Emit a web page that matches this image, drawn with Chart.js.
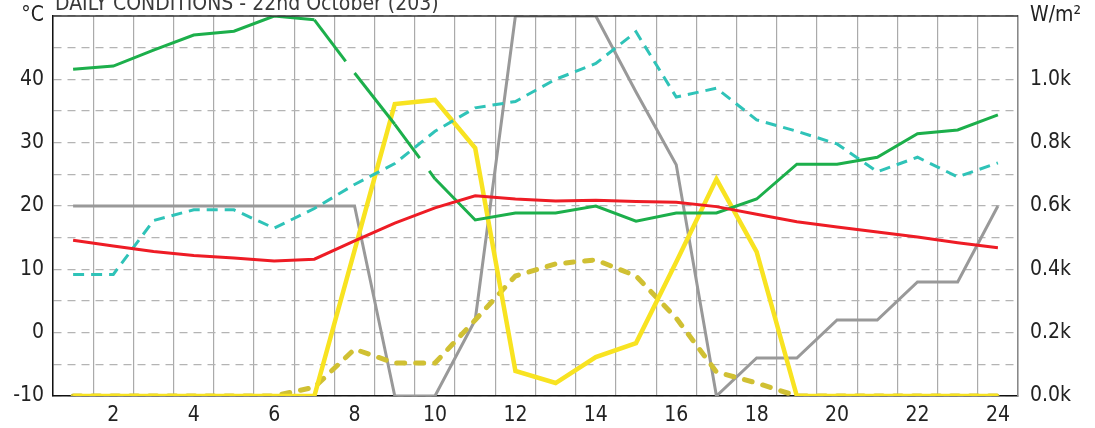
<!DOCTYPE html>
<html>
<head>
<meta charset="utf-8">
<script src="https://cdn.jsdelivr.net/npm/chart.js@4/dist/chart.umd.min.js"></script>
<style>
  html, body { margin: 0; padding: 0; background: #ffffff; }
  #wrap { width: 1095px; height: 428px; position: relative; }
</style>
</head>
<body>
<div id="wrap"><canvas id="chart"></canvas></div>
<script>
// Hours of the day
const hours = [1, 2, 3, 4, 5, 6, 7, 8, 9, 10, 11, 12, 13, 14, 15, 16, 17, 18, 19, 20, 21, 22, 23, 24];

// Temperature-scale series (°C)
const airTemp     = [14.6, 13.7, 12.8, 12.2, 11.8, 11.3, 11.6, 14.5, 17.3, 19.7, 21.6, 21.1, 20.8, 20.9, 20.7, 20.6, 19.9, 18.7, 17.5, 16.7, 15.9, 15.1, 14.2, 13.4];
const greenSeries = [41.6, 42.1, 44.6, 47.0, 47.6, 50.0, 49.4, 41.0, 32.9, 24.3, 17.8, 18.9, 18.9, 20.0, 17.6, 18.9, 18.9, 21.1, 26.6, 26.6, 27.7, 31.4, 32.0, 34.4];
const cyanSeries  = [9.2, 9.2, 17.7, 19.4, 19.4, 16.5, 19.6, 23.4, 26.7, 31.8, 35.5, 36.5, 40.0, 42.5, 47.5, 37.2, 38.6, 33.6, 31.8, 29.8, 25.4, 27.7, 24.6, 26.8];
const graySeries  = [20, 20, 20, 20, 20, 20, 20, 20, -10, -10, 2, 50, 50, 50, 38, 26.5, -10, -4, -4, 2, 2, 8, 8, 20];

// Radiation series (W/m²)
const radiation    = [0, 0, 0, 0, 0, 0, 0, 460, 922, 935, 783, 79, 41, 123, 167, 423, 685, 455, 0, 0, 0, 0, 0, 0];
const radiationAvg = [0, 0, 0, 0, 0, 0, 28, 148, 104, 104, 240, 379, 417, 430, 379, 246, 76, 41, 0, 0, 0, 0, 0, 0];

// Axis ranges and tick labels
const tempMin = -10, tempMax = 50, tempStep = 5;
const radMin = 0, radMax = 1200, radStep = 200;
const tempUnit = '°C';
const radUnit = 'W/m²';
const titleText = 'DAILY CONDITIONS - 22nd October (203)';

const FONT = '"DejaVu Sans Condensed", "Liberation Sans Narrow", sans-serif';
const FONT_SIZE = 21;

// Breaks in the green trace between some hours
const greenBreaks = { 6: [52, 20], 8: [42, 16] };

// Fixed axis box sizes so the plot area sits at a set place
const fitVertical = width => s => {
  s.width = width;
  s.paddingTop = 0;
  s.paddingBottom = 0;
};

const frame = {
  id: 'frame',
  afterDraw(chart) {
    const { ctx, chartArea } = chart;
    ctx.save();
    ctx.strokeStyle = '#333333';
    ctx.lineWidth = 1.5;
    ctx.beginPath();
    ctx.moveTo(chartArea.left, chartArea.top);
    ctx.lineTo(chartArea.right, chartArea.top);
    ctx.stroke();
    ctx.fillStyle = '#3a3a3a';
    ctx.font = FONT_SIZE + 'px ' + FONT;
    ctx.textBaseline = 'alphabetic';
    ctx.textAlign = 'left';
    ctx.fillText(titleText, chartArea.left + 2, chartArea.top - 6);
    ctx.restore();
  }
};

new Chart(document.getElementById('chart'), {
  type: 'line',
  data: {
    labels: hours,
    datasets: [
      {
        data: airTemp, yAxisID: 'y', borderColor: '#ee1c25', borderWidth: 3,
        pointRadius: 0, tension: 0, order: 1
      },
      {
        data: greenSeries, yAxisID: 'y', borderColor: '#1caf4b', borderWidth: 3,
        pointRadius: 0, tension: 0, order: 2,
        segment: { borderDash: c => greenBreaks[c.p0DataIndex] || [] }
      },
      {
        data: cyanSeries, yAxisID: 'y', borderColor: '#2fc3b8', borderWidth: 3,
        borderDash: [11, 7], pointRadius: 0, tension: 0, order: 3
      },
      {
        data: radiation, yAxisID: 'y2', borderColor: '#f8e321', borderWidth: 4.5,
        pointRadius: 0, tension: 0, order: 4
      },
      {
        data: radiationAvg, yAxisID: 'y2', borderColor: '#d0c033', borderWidth: 5,
        borderDash: [8, 11], borderCapStyle: 'round', pointRadius: 0, tension: 0, order: 5
      },
      {
        data: graySeries, yAxisID: 'y', borderColor: '#999999', borderWidth: 3,
        pointRadius: 0, tension: 0, order: 6
      }
    ]
  },
  options: {
    responsive: true,
    maintainAspectRatio: false,
    animation: false,
    devicePixelRatio: 1,
    layout: { padding: { left: 0, right: 0, top: 16, bottom: 0 } },
    plugins: { legend: { display: false }, tooltip: { enabled: false }, title: { display: false } },
    scales: {
      x: {
        type: 'category',
        offset: true,
        afterFit: s => { s.height = 32; s.paddingLeft = 0; s.paddingRight = 0; },
        grid: { offset: true, color: '#aaaaaa', lineWidth: 1.2, drawTicks: false },
        border: { color: '#111111', width: 1.5 },
        ticks: {
          autoSkip: false, maxRotation: 0, padding: 7, color: '#222222',
          font: { family: FONT, size: FONT_SIZE },
          callback: (v, i) => (hours[i] % 2 === 0 ? String(hours[i]) : '')
        }
      },
      y: {
        position: 'left',
        min: tempMin, max: tempMax,
        afterFit: fitVertical(53),
        grid: { color: '#b4b4b4', lineWidth: 1.2, drawTicks: false },
        border: { color: '#111111', width: 1.5, dash: [8, 6] },
        ticks: {
          stepSize: tempStep, padding: 9, color: '#222222',
          font: { family: FONT, size: FONT_SIZE },
          callback: v => (v === tempMax ? tempUnit : (v % 10 === 0 ? String(v) : ''))
        }
      },
      y2: {
        position: 'right',
        min: radMin, max: radMax,
        afterFit: fitVertical(77),
        grid: { display: false, drawTicks: false },
        border: { color: '#888888', width: 1.5 },
        ticks: {
          stepSize: radStep, padding: 12, color: '#222222',
          font: { family: FONT, size: FONT_SIZE },
          callback: v => (v === radMax ? radUnit : (v / 1000).toFixed(1) + 'k')
        }
      }
    }
  },
  plugins: [frame]
});
</script>
</body>
</html>
